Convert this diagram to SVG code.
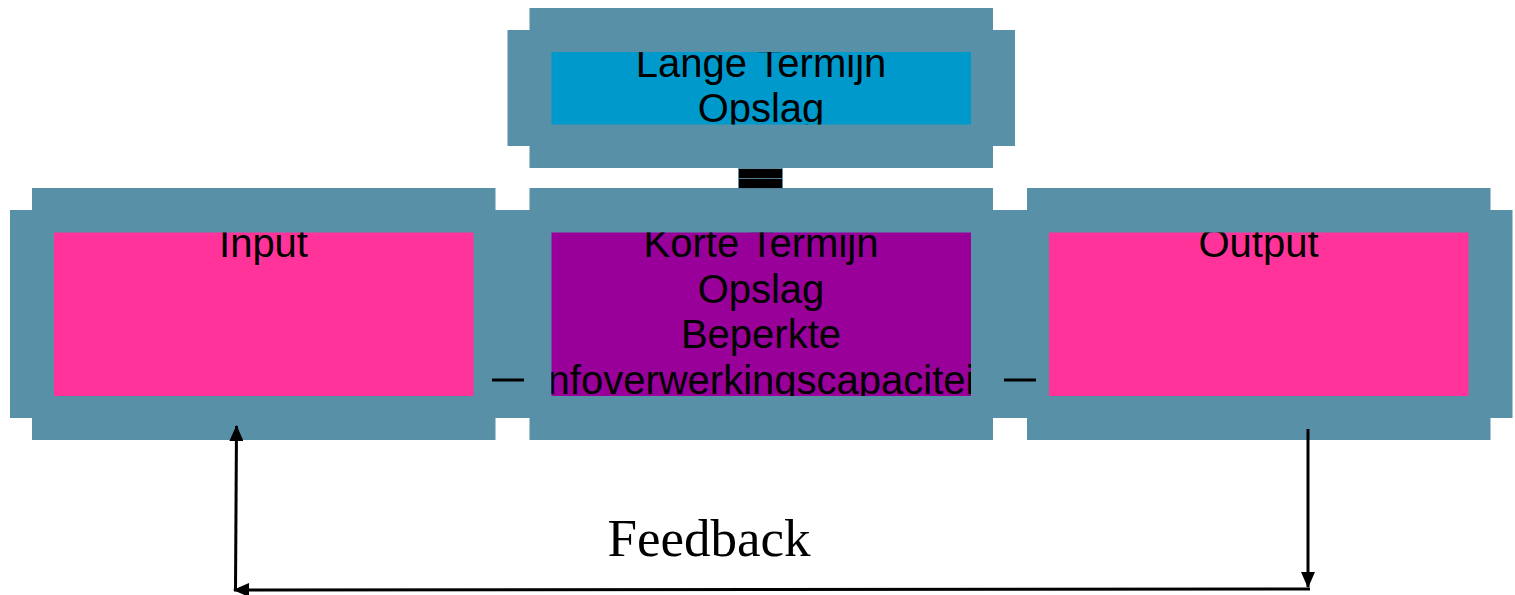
<svg xmlns="http://www.w3.org/2000/svg" width="1515" height="595" viewBox="0 0 1515 595">
<style>
.frame{fill:#5890A8}
.lbl{font-family:"Liberation Sans",Arial,sans-serif;font-size:40px;fill:#000;text-anchor:middle}
.fb{font-family:"Liberation Serif","Times New Roman",serif;font-size:53px;fill:#000;text-anchor:middle}
.ln{stroke:#000;stroke-width:3;fill:none}
</style>
<defs>
<marker id="ah" viewBox="0 0 16 14" refX="15" refY="7" markerWidth="16" markerHeight="14" markerUnits="userSpaceOnUse" orient="auto">
<path d="M0,0 L16,7 L0,14 Z" fill="#000"/>
</marker>
<clipPath id="cTop"><rect x="551.5" y="52" width="419.5" height="72.5"/></clipPath>
<clipPath id="cIn"><rect x="54" y="232.5" width="419.5" height="163.5"/></clipPath>
<clipPath id="cMid"><rect x="551.5" y="232.5" width="419.5" height="163.5"/></clipPath>
<clipPath id="cOut"><rect x="1049" y="232.5" width="419.5" height="163.5"/></clipPath>
</defs>
<rect width="1515" height="595" fill="#fff"/>

<g id="node-lange">
<rect class="frame" x="529.5" y="8" width="463.5" height="160"/>
<rect class="frame" x="507.5" y="30" width="507.5" height="116"/>
<rect x="551.5" y="52" width="419.5" height="72.5" fill="#0099CC"/>
<g clip-path="url(#cTop)">
<text class="lbl" x="761" y="76.5">Lange Termijn</text>
<text class="lbl" x="761" y="122">Opslag</text>
</g>
</g>

<g id="node-input">
<rect class="frame" x="32" y="188" width="463.5" height="252"/>
<rect class="frame" x="10" y="210" width="507.5" height="208"/>
<rect x="54" y="232.5" width="419.5" height="163.5" fill="#FF3399"/>
<g clip-path="url(#cIn)">
<text class="lbl" x="263.5" y="257">Input</text>
</g>
</g>

<g id="node-korte">
<rect class="frame" x="529.5" y="188" width="463.5" height="252"/>
<rect class="frame" x="507.5" y="210" width="507.5" height="208"/>
<rect x="551.5" y="232.5" width="419.5" height="163.5" fill="#990099"/>
<g clip-path="url(#cMid)">
<text class="lbl" x="761" y="257">Korte Termijn</text>
<text class="lbl" x="761" y="302.5">Opslag</text>
<text class="lbl" x="761" y="348">Beperkte</text>
<text class="lbl" x="761" y="393.5">Infoverwerkingscapaciteit</text>
</g>
</g>

<g id="node-output">
<rect class="frame" x="1027" y="188" width="463.5" height="252"/>
<rect class="frame" x="1005" y="210" width="507.5" height="208"/>
<rect x="1049" y="232.5" width="419.5" height="163.5" fill="#FF3399"/>
<g clip-path="url(#cOut)">
<text class="lbl" x="1258.5" y="257">Output</text>
</g>
</g>

<g id="connectors">
<rect x="738.5" y="168.5" width="44" height="10" fill="#000" stroke="#5890A8" stroke-width="0.8"/>
<rect x="738.5" y="178.5" width="44" height="10" fill="#000" stroke="#5890A8" stroke-width="0.8"/>
<line class="ln" x1="492" y1="380" x2="524" y2="380"/>
<line class="ln" x1="1004" y1="380" x2="1036" y2="380"/>
<line class="ln" x1="1308" y1="429" x2="1308" y2="587" marker-end="url(#ah)"/>
<line class="ln" x1="1310" y1="589" x2="234" y2="590" marker-end="url(#ah)"/>
<line class="ln" x1="235.5" y1="591" x2="236.5" y2="426" marker-end="url(#ah)"/>
</g>

<text class="fb" x="709" y="555.5">Feedback</text>
</svg>
